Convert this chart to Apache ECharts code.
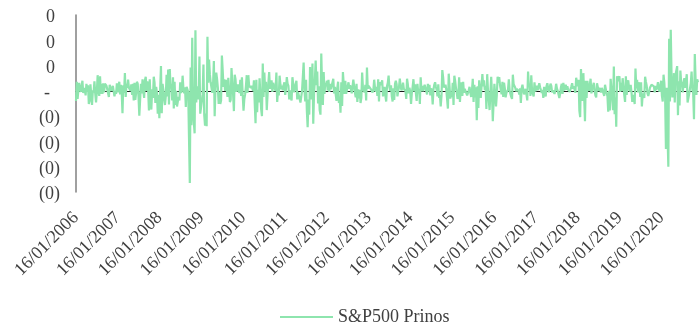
<!DOCTYPE html>
<html>
<head>
<meta charset="utf-8">
<script src="https://cdn.jsdelivr.net/npm/echarts@6/dist/echarts.min.js"></script>
<style>
  html, body { margin: 0; padding: 0; background: #ffffff; }
  #chart { width: 700px; height: 328px; }
</style>
</head>
<body>
<div id="chart"></div>
<script>
// Weekly S&P 500 returns ("Prinos"), one point per week starting Monday 16/01/2006.
const seriesName = 'S&P500 Prinos';
const firstWeek = '2006-01-16';
const tickLabels = ['16/01/2006', '16/01/2007', '16/01/2008', '16/01/2009', '16/01/2010',
  '16/01/2011', '16/01/2012', '16/01/2013', '16/01/2014', '16/01/2015', '16/01/2016',
  '16/01/2017', '16/01/2018', '16/01/2019', '16/01/2020'];

// Weekly returns in percent, grouped by the year that starts on each 16 January.
const r2006 = [-2.0, 1.8, -1.6, 0.2, 1.6, 0.3, -0.2, -0.1, 2.0, -0.4, -0.6, 0.6, -0.9, 1.4, -0.2,
  1.1, -2.6, -1.9, 1.3, 1.0, -2.8, 0.1, -0.3, 1.9, -0.5, -2.3, -0.2, 3.1, 0.1, -1.0, 2.9, -0.6,
  1.4, -0.6, 1.5, -0.3, 1.4, 1.3, 1.0, 0.3, 0.6, -1.2, 1.2, 1.5, 0.0, -0.3, 1.0, 0.9, -1.1, 0.0,
  -0.6, 1.5, -0.3];
const r2007 = [-0.6, 1.8, -0.7, 1.2, -0.3, -4.4, 1.1, -0.4, 3.5, -1.2, 1.4, 0.6, 2.2, 0.6, 0.6,
  0.0, 1.3, -0.8, 1.4, -1.9, 1.6, -1.8, -0.4, 1.8, 1.4, -1.2, -4.9, -1.8, 1.4, -0.5, 2.3, 0.0,
  -1.4, 2.1, 2.8, 0.0, 1.9, 0.3, -3.9, 2.3, -1.7, -3.7, 0.3, -1.4, 2.8, 1.6, -2.4, 0.8, -0.4,
  -4.5, -0.8, -5.4];
const r2008 = [0.3, 4.9, -4.4, 1.4, 0.2, -1.7, -2.8, -1.1, 3.2, -1.1, 4.2, -2.7, 4.3, 0.5, 1.4,
  -1.9, 2.7, -3.5, 1.8, -2.8, 0.0, -3.1, -3.0, -1.2, -1.9, 1.7, -0.4, 0.0, 3.0, 0.5, -0.5, 0.7,
  -3.2, 0.8, 0.3, -0.3, -9.4, -18.2, 4.6, -6.8, 10.5, -3.9, -6.2, -8.4, 12.0, -2.3, 0.4, 0.9,
  -1.7, 6.8, -4.5, -4.4];
const r2009 = [-2.1, -0.7, 5.2, -4.8, -6.9, -4.5, -7.0, 10.7, 1.6, 6.2, 3.3, 1.7, 1.5, -0.4, 1.3,
  5.9, -5.0, 0.5, 3.6, 2.3, 0.6, -2.6, -0.2, -2.6, -1.9, 7.0, 4.1, 0.8, 2.3, 0.0, 2.2, 0.3,
  -1.2, 2.6, 2.5, -2.2, -1.8, 4.5, 1.5, -0.7, -4.0, 3.2, 2.3, -0.2, -0.1, 1.3, 0.0, -0.4, 2.2,
  -1.0, 2.7, -0.8];
const r2010 = [-3.9, -1.6, -0.7, 0.9, 3.1, -0.4, 3.1, 1.0, 0.9, 0.6, 1.0, 0.7, 0.0, 2.1, -2.5,
  -6.4, 2.2, -4.2, 0.2, -2.3, 2.5, 2.4, -3.6, -5.0, 5.4, -1.2, 3.6, -0.1, 1.8, -3.8, -0.7, -0.7,
  3.7, 0.4, 1.4, 2.1, -0.2, 1.6, 0.9, 0.6, 0.0, 3.6, -2.2, 0.0, -0.9, 3.0, 1.3, 0.3, 1.0, 0.1,
  1.1, 1.7];
const r2011 = [-0.8, 0.5, 2.7, 1.4, 1.0, -1.7, 0.1, -1.3, -1.9, 2.7, 1.4, -0.3, -0.6, 1.3, 2.0,
  -1.7, -0.2, -0.3, -0.2, -2.3, -2.2, 0.0, -0.2, 5.6, 0.3, -2.1, 2.2, -3.9, -7.2, -1.7, -4.7,
  4.7, -0.2, -1.7, 5.4, -6.5, -0.4, 2.1, 6.0, 1.1, 3.8, -2.5, 0.9, -3.8, -4.7, 7.4, 0.9, -2.8,
  3.7, -0.6, 1.6, 0.9];
const r2012 = [2.0, 0.1, 2.2, -0.2, 1.4, 0.3, 0.3, 0.1, 2.4, -0.5, 0.8, -0.7, -2.0, 0.6, 1.8,
  -2.4, -1.2, -4.3, 1.7, -3.0, 3.7, 1.3, -0.6, 2.0, -0.6, 0.2, 0.4, 1.7, 0.4, 1.1, 0.9, -0.5,
  -0.3, 2.2, 1.9, -0.4, -1.3, 1.4, -2.2, 0.3, -1.5, 0.2, -2.4, -1.4, 3.6, 0.5, 0.1, -0.3, 1.2,
  -1.9, 4.6, 0.4, 1.0];
const r2013 = [1.1, 0.7, 0.3, 0.1, -0.3, 0.2, 2.2, 0.6, -0.2, 0.8, -1.0, 2.3, -2.1, 1.7, 2.0,
  1.2, 2.1, -1.1, -1.1, 0.8, -1.0, -2.1, 0.9, 1.6, 3.0, 0.7, 0.0, 1.1, -1.1, -2.1, 0.5, -1.8,
  1.4, 2.0, 1.3, -1.1, -0.1, 0.8, 2.4, 0.9, 0.1, 0.5, 1.6, 0.4, 0.1, 0.0, -1.6, 2.4, 1.3, -0.5,
  0.6, -0.2];
const r2014 = [-2.6, -0.4, 0.8, 2.3, -0.1, 1.3, 1.0, -2.0, 1.4, -0.5, 0.4, -2.6, 2.7, -0.1, 1.0,
  -0.1, 0.0, 1.2, 1.2, 1.3, -0.7, 1.4, -0.1, 1.2, -0.9, 0.5, 0.0, -2.7, 0.3, 1.2, 1.7, 0.8, 0.2,
  -1.1, 1.3, -1.4, -0.8, -3.1, -1.0, 4.1, 2.7, 0.7, 0.4, 1.2, 0.2, 0.4, -3.5, 3.4, 0.9, -1.5,
  -0.6, -1.2];
const r2015 = [1.6, -2.8, 3.0, 2.0, 0.6, -0.3, -1.6, -0.9, 2.7, -2.2, 0.3, 1.7, -1.0, 1.8, -0.4,
  0.4, 0.3, 0.2, -0.9, -0.7, 0.1, 0.8, -0.4, -1.2, 0.0, 2.4, -2.2, 1.2, -1.3, 0.7, -5.8, 0.9,
  -3.4, 2.1, -0.2, -1.4, 1.0, 3.3, 0.9, 2.1, 0.2, 1.0, -3.6, 3.3, 0.0, 0.1, -3.8, -0.3, 2.8,
  -0.8, -6.0, -2.2];
const r2016 = [1.4, 1.7, -3.1, -0.8, 2.8, 1.6, 2.7, 1.1, 1.4, -0.7, 1.8, -1.2, 1.6, 0.5, -1.3,
  -0.4, -0.5, 0.3, 2.3, 0.0, -0.1, -1.2, -1.6, 3.2, 1.3, 1.5, 0.6, -0.1, 0.4, 0.1, 0.0, -0.7,
  0.5, -2.4, 0.5, 1.2, 0.2, -0.7, -1.0, 0.4, -0.7, -1.9, 3.8, 0.8, 1.4, -1.0, 3.1, -0.1, 0.2,
  -1.1, 1.7, -0.1];
const r2017 = [-0.1, 1.0, 0.1, 0.8, 1.5, 0.7, 0.7, -0.4, 0.2, -1.4, 0.8, -0.3, -1.1, 0.9, 1.5,
  0.6, -0.3, -0.4, 1.4, 1.0, -0.3, 0.1, 0.2, -0.6, 0.1, 1.4, 0.5, 0.0, 0.2, -1.4, -0.6, 0.7,
  1.4, -0.6, 1.6, 0.1, 0.7, 1.2, 0.2, 0.9, 0.2, 0.3, -0.2, -0.1, 0.9, 1.5, 0.4, 0.9, 0.3, -0.4,
  2.6, 1.6, 0.9];
const r2018 = [2.2, -3.9, -5.2, 4.3, 0.6, -2.0, 3.5, -1.2, -6.0, 2.0, -1.4, 2.0, 0.5, 0.0, -0.2,
  2.4, -0.5, 0.3, 0.5, 1.6, 0.0, -0.9, -1.3, 1.5, 1.5, 0.0, 0.6, 0.8, -0.3, 0.6, 0.9, 0.9,
  -1.0, 1.2, 0.9, -0.5, -1.0, -4.1, 0.0, -3.9, 2.4, 2.1, -1.6, -3.8, 4.8, -4.6, -1.3, -7.1, 2.9,
  1.9, 2.5, 2.9];
const r2019 = [-0.2, 1.6, 0.0, 2.5, 0.6, 0.4, -2.2, 2.9, -0.8, 1.2, 2.1, 0.5, -0.1, 1.2, -0.2,
  -2.2, -0.8, -1.2, -2.6, 4.4, 0.5, 2.2, -0.3, 1.7, 0.8, -1.2, 1.7, -3.1, -0.5, -1.0, -1.4, 2.8,
  1.8, 1.0, -0.5, -1.0, -0.3, 0.6, 0.5, 1.2, 1.5, 0.9, 0.9, -0.3, 1.0, 0.2, 0.7, 1.7, 0.6, -0.2,
  1.0, 2.0];
const r2020 = [-1.0, -2.1, 3.2, 1.6, -1.3, -11.5, 0.6, -8.8, -15.0, 10.3, -2.1, 12.1, 3.0, -1.3,
  -0.2, 3.5, -2.3, 3.2, 3.0, 4.9, -4.8, 1.9, -2.9, 4.0, 1.8, 1.3, -0.3, 1.7, 2.5, 0.6, 0.7, 3.3,
  -2.3, -2.5, -0.6, -0.6, 1.5, 3.8, 0.2, -0.5, -5.6, 7.3, 2.2, -0.8, 2.3, 1.7];

const weeklyPct = [].concat(r2006, r2007, r2008, r2009, r2010, r2011, r2012, r2013, r2014,
  r2015, r2016, r2017, r2018, r2019, r2020);

const DAY = 86400000;
const t0 = Date.parse(firstWeek + 'T00:00:00Z');
function dayOffset(label) {
  const [d, m, y] = label.split('/').map(Number);
  return Math.round((Date.UTC(y, m - 1, d) - t0) / DAY);
}
const tickDays = tickLabels.map(dayOffset);
const labelByDay = {};
tickDays.forEach((d, i) => { labelByDay[d] = tickLabels[i]; });

// x = days since the first week, y = return as a fraction
const points = weeklyPct.map((p, i) => [i * 7, p / 100]);
const lastDay = (weeklyPct.length - 1) * 7;

const LINE_COLOR = '#8EE5AE';
const textFont = { fontFamily: 'Liberation Serif', fontSize: 18, color: '#404040' };

const chart = echarts.init(document.getElementById('chart'), null, { renderer: 'canvas' });
chart.setOption({
  animation: false,
  backgroundColor: '#ffffff',
  grid: { left: 76, right: 2, top: 15, bottom: 136, containLabel: false, outerBoundsMode: 'none' },
  legend: {
    left: 275, top: 303,
    itemWidth: 53, itemHeight: 2,
    textStyle: Object.assign({}, textFont),
    data: [{ name: seriesName, icon: 'rect' }]
  },
  xAxis: [{
    type: 'value', min: 0, max: lastDay,
    position: 'bottom',
    axisLine: { show: false, onZero: false },
    axisTick: { show: false },
    splitLine: { show: false },
    axisLabel: Object.assign({
      customValues: tickDays,
      rotate: 45,
      margin: 23,
      formatter: v => labelByDay[Math.round(v)] || ''
    }, textFont)
  }, {
    // thin black line along zero
    type: 'value', min: 0, max: lastDay,
    position: 'bottom',
    axisLine: { show: true, onZero: true, lineStyle: { color: '#1a1a1a', width: 1 } },
    axisTick: { show: false },
    axisLabel: { show: false },
    splitLine: { show: false }
  }],
  yAxis: {
    type: 'value', min: -0.2, max: 0.15, interval: 0.05,
    axisLine: { show: true, onZero: false, lineStyle: { color: '#808080', width: 1.5 } },
    axisTick: { show: false },
    splitLine: { show: false },
    axisLabel: Object.assign({
      margin: 16,
      formatter: v => {
        if (Math.abs(v) < 1e-9) return '{z|-}';
        return v > 0 ? '{p|0}' : '{n|(0)}';
      },
      rich: {
        p: Object.assign({ padding: [5, 5, 0, 0] }, textFont),
        z: Object.assign({ padding: [5, 10, 0, 0] }, textFont),
        n: Object.assign({ padding: [5, 0, 0, 0] }, textFont)
      }
    }, textFont)
  },
  series: [{
    name: seriesName,
    type: 'line',
    xAxisIndex: 0,
    data: points,
    symbol: 'none',
    showSymbol: false,
    lineStyle: { color: LINE_COLOR, width: 2.2 },
    itemStyle: { color: LINE_COLOR },
    z: 3
  }]
});
</script>
</body>
</html>
